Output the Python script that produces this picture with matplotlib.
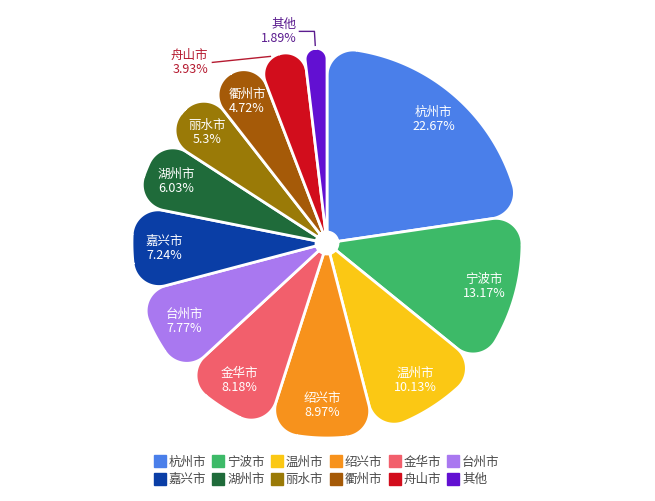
import numpy as np
import matplotlib
matplotlib.use('Agg')
import matplotlib.pyplot as plt
from matplotlib.patches import Polygon
from matplotlib.lines import Line2D

plt.rcParams['font.family'] = ['Noto Sans CJK SC', 'DejaVu Sans']

# data
cities = ['杭州市', '宁波市', '温州市', '绍兴市', '金华市', '台州市',
          '嘉兴市', '湖州市', '丽水市', '衢州市', '舟山市', '其他']
shares = [22.67, 13.17, 10.13, 8.97, 8.18, 7.77, 7.24, 6.03, 5.3, 4.72, 3.93, 1.89]
colors = ['#4a7fea', '#3dba68', '#fbc814', '#f7921c', '#f25f6c', '#a978f0',
          '#0a3ea6', '#1f6b3a', '#9a7a07', '#a55a08', '#d20d1c', '#6210d2']
outside = ['舟山市', '其他']
outside_text = {'舟山市': '#b51a30', '其他': '#5b1c8f'}

W, H = 655, 501
cx, cy = 327, 243
R, r0 = 195, 11
corner = 26


def pt(r, deg):
    t = np.radians(deg)
    return cx + r * np.cos(t), cy - r * np.sin(t)


def arc(ox, oy, r, d1, d2, n=30):
    t = np.radians(np.linspace(d1, d2, n))
    return np.column_stack([ox + r * np.cos(t), oy - r * np.sin(t)])


def rounded_sector(lo, hi):
    half = np.radians(hi - lo) / 2
    c = min(corner, R * np.sin(half) / (1 + np.sin(half)) * 0.98)
    d = R - c
    dl = np.degrees(np.arcsin(c / d))
    ax1, ay1 = pt(d, lo + dl)
    ax2, ay2 = pt(d, hi - dl)
    parts = [np.array([pt(r0, lo)]),
             arc(ax1, ay1, c, lo - 90, lo + dl),
             arc(cx, cy, R, lo + dl, hi - dl, 80),
             arc(ax2, ay2, c, hi - dl, hi + 90),
             arc(cx, cy, r0, hi, lo, 10)]
    return np.vstack(parts)


fig = plt.figure(figsize=(W / 100, H / 100), dpi=100)
ax = fig.add_axes([0, 0, 1, 1])
ax.set_xlim(0, W)
ax.set_ylim(H, 0)
ax.axis('off')

start = 90.0
for name, v, col in zip(cities, shares, colors):
    span = v / 100 * 360
    hi, lo = start, start - span
    start = lo
    ax.add_patch(Polygon(rounded_sector(lo, hi), closed=True, facecolor=col,
                         edgecolor='white', linewidth=2, joinstyle='round'))
    mid = (lo + hi) / 2
    if name not in outside:
        x, y = pt(163, mid)
        ax.text(x, y - 7, name, color='white', fontsize=9, ha='center', va='center')
        ax.text(x, y + 7, f'{v}%', color='white', fontsize=9, ha='center', va='center')
    else:
        tc = outside_text[name]
        if name == '其他':
            x0, y0 = pt(R + 3, mid)
            x1, y1 = pt(R + 17, mid)
            x2 = x1 - 15
            ax.plot([x0, x1, x2], [y0, y1, y1], color=tc, lw=1)
            tx, ty = x2 - 3, y1
        else:
            x0, y0 = pt(R, mid + 3)
            x2, y2 = x0 - 58, y0 + 6
            ax.plot([x0, x2], [y0, y2], color=tc, lw=1)
            tx, ty = x2 - 4, y2
        ax.text(tx, ty - 7, name, color=tc, fontsize=9, ha='right', va='center')
        ax.text(tx, ty + 7, f'{v}%', color=tc, fontsize=9, ha='right', va='center')

# legend: rows filled left to right
handles = [Line2D([], [], marker='s', ls='', markersize=8, markerfacecolor=c,
                  markeredgecolor=c, label=n) for n, c in zip(cities, colors)]
order = [i + 6 * r for i in range(6) for r in range(2)]
leg = ax.legend([handles[i] for i in order], [cities[i] for i in order],
                ncol=6, loc='center', bbox_to_anchor=(327 / W, 1 - 471 / H),
                frameon=False, fontsize=9, handlelength=0.8, handletextpad=0.3,
                columnspacing=0.6, labelspacing=0.35, labelcolor='#4a4a4a')

fig.savefig('out.png', dpi=100)
